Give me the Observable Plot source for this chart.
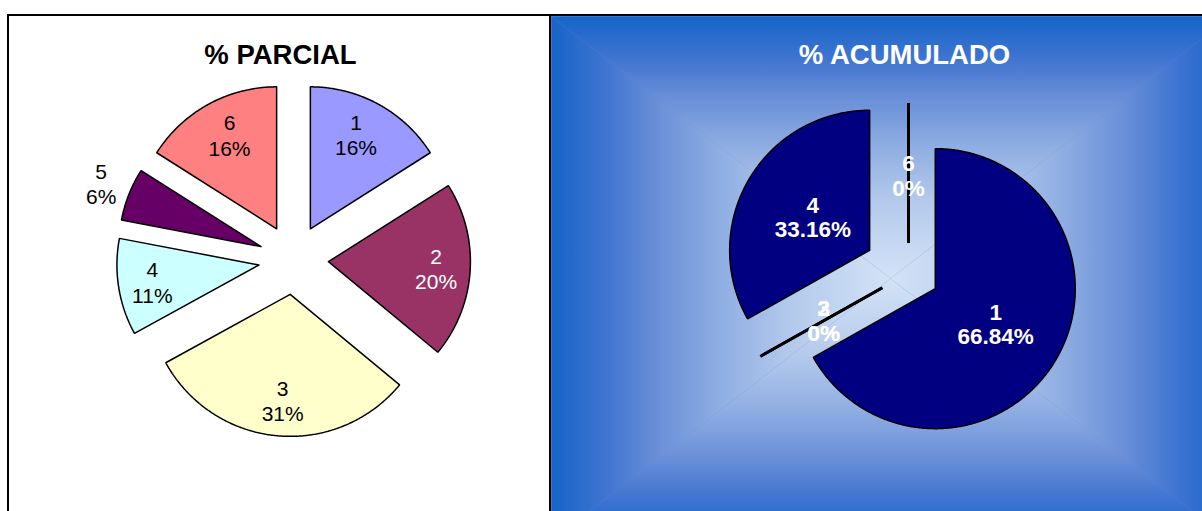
<!DOCTYPE html>
<html><head><meta charset="utf-8">
<script src="https://cdn.jsdelivr.net/npm/d3@7"></script>
<script src="https://cdn.jsdelivr.net/npm/@observablehq/plot@0.6"></script>
<style>
html,body{margin:0;padding:0;background:#fff;}
#chart{width:1202px;height:511px;overflow:hidden;position:relative;}
#chart svg{display:block;}
</style>
</head><body>
<svg width="0" height="0" style="position:absolute">
  <defs id="grads"></defs>
</svg>
<div id="chart"></div>
<script>
// ---- data ----
const categories = ["1", "2", "3", "4", "5", "6"];
const parcialValues = [16, 20, 31, 11, 6, 16];
const parcialPct = ["16%", "20%", "31%", "11%", "6%", "16%"];
const parcialColors = ["#9999FF", "#993366", "#FFFFCC", "#CCFFFF", "#660066", "#FF8080"];
const parcialLabelColors = ["black", "white", "black", "black", "black", "black"];
const acumuladoValues = [66.84, 0, 0, 33.16, 0, 0];
const acumuladoPct = ["66.84%", "0%", "0%", "33.16%", "0%", "0%"];
const acumuladoLabelled = ["1", "2", "3", "4", "6"];
const titles = ["% PARCIAL", "% ACUMULADO"];

// ---- layout ----
const W = 1202, H = 511;
const leftCfg = {cx: 293, cy: 259, r: 142, explode: [35, 35, 35, 35, 35, 35], labelFrac: [0.74, 0.76, 0.75, 0.76, 1.21, 0.74], labelTilt: [-2.3, 0, -1, 0, 0, 1.6]};
const rightCfg = {cx: 908, cy: 272.5, r: 140, explode: [31, 30, 30, 45, 30, 30], labelFrac: [0.5, 0.48, 0.48, 0.47, 0.48, 0.48], labelTilt: [0, 0, 0, 0, 0, 0]};
const bg = {x1: 551, y1: 16, x2: 1230, y2: 540, cx: 890, cy: 278};
const stops = [[0, "#d3e3f6"], [0.3, "#b3c9ec"], [0.5, "#8faee2"], [0.68, "#6b90d8"], [0.85, "#3d73d0"], [1, "#1565c8"]];

// gradients
const defs = d3.select("#grads");
function grad(id, x2, y2) {
  const g = defs.append("linearGradient").attr("id", id).attr("gradientUnits", "userSpaceOnUse")
    .attr("x1", bg.cx).attr("y1", bg.cy).attr("x2", x2).attr("y2", y2);
  stops.forEach(([o, c]) => g.append("stop").attr("offset", o).attr("stop-color", c));
}
grad("gTop", bg.cx, bg.y1);
grad("gBottom", bg.cx, bg.y2);
grad("gLeft", bg.x1, bg.cy);
grad("gRight", bg.x2, bg.cy);

const C = {x: bg.cx, y: bg.cy};
const TL = {x: bg.x1, y: bg.y1}, TR = {x: bg.x2, y: bg.y1}, BR = {x: bg.x2, y: bg.y2}, BL = {x: bg.x1, y: bg.y2};
const bgTris = [
  {id: "gTop", pts: [TL, TR, C, TL]},
  {id: "gBottom", pts: [BL, BR, C, BL]},
  {id: "gLeft", pts: [TL, BL, C, TL]},
  {id: "gRight", pts: [TR, BR, C, TR]}
];

function pieGeometry(values, cfg) {
  const arcs = d3.pie().sort(null).value(d => d).startAngle(0).endAngle(2 * Math.PI)(values);
  return arcs.map((a, i) => {
    const b = (a.startAngle + a.endAngle) / 2;
    const e = cfg.explode[i];
    const ax = cfg.cx + e * Math.sin(b), ay = cfg.cy - e * Math.cos(b);
    const span = a.endAngle - a.startAngle;
    let pts;
    if (span <= 0) {
      pts = [{x: ax, y: ay}, {x: ax + cfg.r * Math.sin(a.startAngle), y: ay - cfg.r * Math.cos(a.startAngle)}];
    } else {
      pts = [{x: ax, y: ay}];
      const n = Math.max(2, Math.ceil(span / (Math.PI / 360)));
      for (let k = 0; k <= n; k++) {
        const t = a.startAngle + span * k / n;
        pts.push({x: ax + cfg.r * Math.sin(t), y: ay - cfg.r * Math.cos(t)});
      }
      pts.push({x: ax, y: ay});
    }
    const lr = e + cfg.labelFrac[i] * cfg.r;
    const lb = b + cfg.labelTilt[i] * Math.PI / 180;
    return {i, zero: span <= 0, pts, lx: cfg.cx + lr * Math.sin(lb), ly: cfg.cy - lr * Math.cos(lb)};
  });
}

const leftGeo = pieGeometry(parcialValues, leftCfg);
const rightGeo = pieGeometry(acumuladoValues, rightCfg);

const leftLabels = leftGeo.map(g => ({x: g.lx, y: g.ly, text: categories[g.i] + "\n" + parcialPct[g.i], fill: parcialLabelColors[g.i]}));
const rightLabels = rightGeo.filter(g => acumuladoLabelled.includes(categories[g.i]))
  .map(g => ({x: g.lx, y: g.ly, text: categories[g.i] + "\n" + acumuladoPct[g.i]}));

const FONT = "'Liberation Sans', Arial, Helvetica, sans-serif";

const marks = [];
// left panel
marks.push(Plot.rect([{x1: 8, x2: 550, y1: 15, y2: 560}], {x1: "x1", x2: "x2", y1: "y1", y2: "y2", fill: "white", stroke: "black", strokeWidth: 2}));
// right panel gradient background (base + four gradient triangles)
marks.push(Plot.rect([{x1: 551, x2: 1240, y1: 16, y2: 560}], {x1: "x1", x2: "x2", y1: "y1", y2: "y2", fill: "#5f88d6"}));
bgTris.forEach(t => marks.push(Plot.line(t.pts, {x: "x", y: "y", fill: `url(#${t.id})`, stroke: "none", curve: "linear"})));
marks.push(Plot.rect([{x1: 550, x2: 1240, y1: 15, y2: 560}], {x1: "x1", x2: "x2", y1: "y1", y2: "y2", fill: "none", stroke: "black", strokeWidth: 2}));

// left pie slices
leftGeo.forEach(g => {
  if (g.zero) marks.push(Plot.line(g.pts, {x: "x", y: "y", stroke: "black", strokeWidth: 2.5}));
  else marks.push(Plot.line(g.pts, {x: "x", y: "y", fill: parcialColors[g.i], stroke: "black", strokeWidth: 1.5, strokeLinejoin: "miter", curve: "linear"}));
});
// right pie slices
rightGeo.forEach(g => {
  if (g.zero) marks.push(Plot.line(g.pts, {x: "x", y: "y", stroke: "black", strokeWidth: 2.8, strokeLinecap: "butt"}));
  else marks.push(Plot.line(g.pts, {x: "x", y: "y", fill: "#000080", stroke: "black", strokeWidth: 1.5, strokeLinejoin: "miter", curve: "linear"}));
});

// labels
marks.push(Plot.text(leftLabels, {x: "x", y: "y", text: "text", fill: "fill", fontSize: 21, lineHeight: 1.2, fontFamily: FONT}));
marks.push(Plot.text(rightLabels, {x: "x", y: "y", text: "text", fill: "white", fontSize: 22.5, fontWeight: "bold", lineHeight: 1.1, fontFamily: FONT}));

// titles
marks.push(Plot.text([{x: 280, y: 55, t: titles[0]}], {x: "x", y: "y", text: "t", fill: "black", fontSize: 27.5, fontWeight: "bold", fontFamily: FONT}));
marks.push(Plot.text([{x: 904, y: 55, t: titles[1]}], {x: "x", y: "y", text: "t", fill: "white", fontSize: 27.5, fontWeight: "bold", fontFamily: FONT}));

const chart = Plot.plot({
  width: W, height: H,
  margin: 0,
  x: {domain: [0, W], range: [0, W], axis: null},
  y: {domain: [0, H], range: [0, H], axis: null},
  color: {type: "identity"},
  style: {fontFamily: FONT, background: "white", overflow: "hidden"},
  marks
});
document.getElementById("chart").appendChild(chart);
</script>
</body></html>
